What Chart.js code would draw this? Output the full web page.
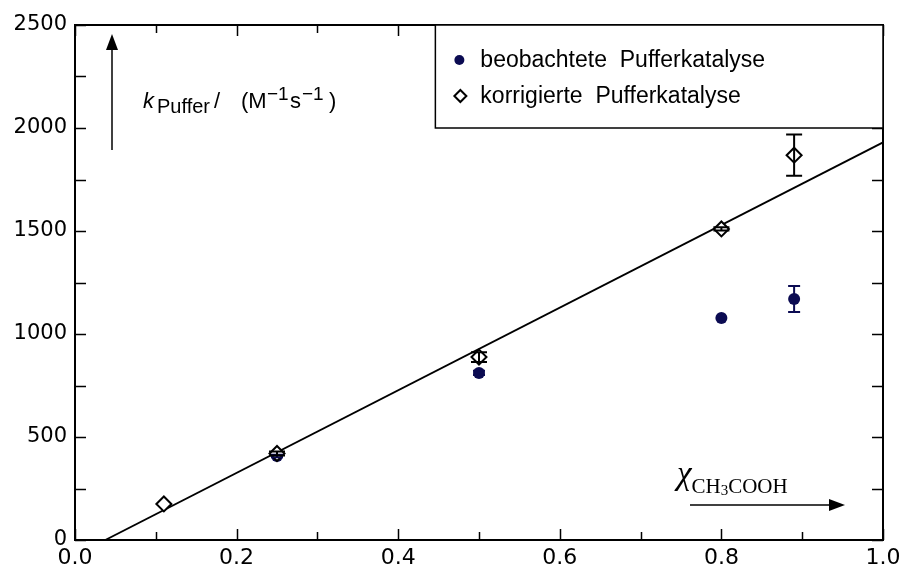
<!DOCTYPE html>
<html>
<head>
<meta charset="utf-8">
<script src="https://cdn.jsdelivr.net/npm/chart.js@4.4.0/dist/chart.umd.min.js"></script>
<style>
  html, body { margin: 0; padding: 0; background: #fff; }
  #wrap { width: 903px; height: 568px; }
</style>
</head>
<body>
<div id="wrap"><canvas id="c" width="903" height="568"></canvas></div>
<script>
// values
const obsX = [0.25, 0.50, 0.80, 0.89];
const obsY = [408, 811, 1078, 1170];
const obsErr = [6, 10, 0, 63];

const corrX = [0.11, 0.25, 0.50, 0.80, 0.89];
const corrY = [175, 420, 888, 1510, 1868];
const corrErr = [0, 10, 24, 8, 100];

// fitted line (end points)
const fitX = [0.0375, 1.0];
const fitY = [0, 1930];

const xTicksMajor = [0, 0.2, 0.4, 0.6, 0.8, 1.0];
const yTicks = [0, 500, 1000, 1500, 2000, 2500];

const labelObs = 'beobachtete  Pufferkatalyse';
const labelCorr = 'korrigierte  Pufferkatalyse';

const navy = '#0b0b52';
const SANS = '"Liberation Sans", Arial, sans-serif';
const SERIF = '"Liberation Serif", "Times New Roman", serif';

function pts(xs, ys) { return xs.map((x, i) => ({x: x, y: ys[i]})); }

// error bars, frame, inward ticks, legend box, axis arrows
const decorPlugin = {
  id: 'decor',
  afterDatasetsDraw(chart) {
    const ctx = chart.ctx;
    const xs = chart.scales.x, ys = chart.scales.y;
    const errs = [null, obsErr, corrErr];
    const cols = [null, navy, '#000'];
    const caps = [0, 6, 8];
    ctx.save();
    [1, 2].forEach(di => {
      const ds = chart.data.datasets[di];
      ctx.strokeStyle = cols[di];
      ctx.lineWidth = 2;
      ds.data.forEach((p, i) => {
        const e = errs[di][i];
        if (!e) return;
        const px = xs.getPixelForValue(p.x);
        const top = ys.getPixelForValue(p.y + e);
        const bot = ys.getPixelForValue(p.y - e);
        ctx.beginPath();
        ctx.moveTo(px, top); ctx.lineTo(px, bot);
        ctx.moveTo(px - caps[di], top); ctx.lineTo(px + caps[di], top);
        ctx.moveTo(px - caps[di], bot); ctx.lineTo(px + caps[di], bot);
        ctx.stroke();
      });
    });
    ctx.restore();
  },
  afterDraw(chart) {
    const ctx = chart.ctx;
    const a = chart.chartArea;
    const xs = chart.scales.x, ys = chart.scales.y;
    ctx.save();
    ctx.strokeStyle = '#000';
    ctx.lineWidth = 2;
    ctx.strokeRect(a.left, a.top, a.right - a.left, a.bottom - a.top);

    // inward ticks
    ctx.lineWidth = 1.5;
    ctx.beginPath();
    for (let k = 0; k <= 10; k++) {
      const v = k / 10;
      const px = Math.round(xs.getPixelForValue(v)) + 0.5;
      const len = (k % 2 === 0) ? 11 : 8;
      ctx.moveTo(px, a.bottom); ctx.lineTo(px, a.bottom - len);
      ctx.moveTo(px, a.top); ctx.lineTo(px, a.top + len);
    }
    for (let k = 0; k <= 10; k++) {
      const v = k * 250;
      const py = Math.round(ys.getPixelForValue(v)) + 0.5;
      ctx.moveTo(a.left, py); ctx.lineTo(a.left + 11, py);
      ctx.moveTo(a.right, py); ctx.lineTo(a.right - 11, py);
    }
    ctx.stroke();

    // legend box
    const lx = xs.getPixelForValue(0.446), ly = a.top;
    const lw = a.right - lx, lh = 103;
    ctx.fillStyle = '#fff';
    ctx.fillRect(lx, ly, lw, lh);
    ctx.lineWidth = 1.5;
    ctx.strokeRect(lx, ly, lw, lh);
    ctx.font = '23px ' + SANS;
    ctx.textBaseline = 'middle';
    ctx.fillStyle = navy;
    ctx.beginPath(); ctx.arc(lx + 24, ly + 35, 5, 0, Math.PI * 2); ctx.fill();
    ctx.fillStyle = '#000';
    ctx.fillText(labelObs, lx + 45, ly + 36);
    ctx.lineWidth = 2;
    ctx.beginPath();
    const dx = lx + 25, dy = ly + 71, r = 6;
    ctx.moveTo(dx, dy - r); ctx.lineTo(dx + r, dy); ctx.lineTo(dx, dy + r); ctx.lineTo(dx - r, dy); ctx.closePath();
    ctx.stroke();
    ctx.fillText(labelCorr, lx + 45, ly + 72);

    // y arrow
    ctx.lineWidth = 1.5;
    ctx.beginPath(); ctx.moveTo(112, 150); ctx.lineTo(112, 48); ctx.stroke();
    ctx.beginPath(); ctx.moveTo(112, 34); ctx.lineTo(106, 50); ctx.lineTo(118, 50); ctx.closePath(); ctx.fill();
    // x arrow
    ctx.beginPath(); ctx.moveTo(690, 505); ctx.lineTo(830, 505); ctx.stroke();
    ctx.beginPath(); ctx.moveTo(845, 505); ctx.lineTo(829, 499); ctx.lineTo(829, 511); ctx.closePath(); ctx.fill();

    // y axis title: k_Puffer / (M^-1 s^-1)
    ctx.textBaseline = 'alphabetic';
    function at(txt, font, x, y) { ctx.font = font; ctx.fillText(txt, x, y); }
    at('k', 'italic 22px ' + SANS, 143, 108);
    at('Puffer', '20px ' + SANS, 157, 113);
    at('/', '22px ' + SANS, 214, 108);
    at('(M', '22px ' + SANS, 241, 108);
    at('\u22121', '19px ' + SANS, 267, 100);
    at('s', '22px ' + SANS, 290, 108);
    at('\u22121', '19px ' + SANS, 302, 100);
    at(')', '22px ' + SANS, 329, 108);

    // x axis title: chi_CH3COOH
    let x = 677;
    function putx(txt, font, y) {
      ctx.font = font;
      ctx.fillText(txt, x, y);
      x += ctx.measureText(txt).width;
    }
    putx('\u03c7', 'italic 33px ' + SERIF, 484);
    putx('CH', '21px ' + SERIF, 493);
    putx('3', '15px ' + SERIF, 495);
    putx('COOH', '21px ' + SERIF, 493);
    ctx.restore();
  }
};

const chart = new Chart(document.getElementById('c'), {
  type: 'scatter',
  data: {
    datasets: [
      {
        type: 'line',
        label: 'fit',
        data: pts(fitX, fitY),
        borderColor: '#000',
        borderWidth: 1.8,
        pointRadius: 0,
        fill: false,
        order: 3
      },
      {
        label: labelObs,
        data: pts(obsX, obsY),
        pointStyle: 'circle',
        pointRadius: 6,
        backgroundColor: navy,
        borderColor: navy,
        borderWidth: 0,
        order: 2
      },
      {
        label: labelCorr,
        data: pts(corrX, corrY),
        pointStyle: 'rectRot',
        pointRadius: 7.5,
        backgroundColor: '#fff',
        borderColor: '#000',
        borderWidth: 2,
        order: 1
      }
    ]
  },
  options: {
    responsive: false,
    animation: false,
    layout: { padding: { top: 25, right: 0, left: 0, bottom: 0 } },
    plugins: { legend: { display: false }, tooltip: { enabled: false } },
    scales: {
      x: {
        type: 'linear',
        min: 0, max: 1,
        grid: { display: false, drawTicks: false },
        border: { display: false },
        afterBuildTicks: s => { s.ticks = xTicksMajor.map(v => ({value: v})); },
        afterFit: s => { s.height = 28; s.paddingRight = 20; },
        ticks: {
          padding: 5,
          color: '#000',
          font: { family: '"DejaVu Sans", sans-serif', size: 22 },
          callback: v => Number(v).toFixed(1),
          maxRotation: 0
        }
      },
      y: {
        type: 'linear',
        min: 0, max: 2500,
        grid: { display: false, drawTicks: false },
        border: { display: false },
        afterBuildTicks: s => { s.ticks = yTicks.map(v => ({value: v})); },
        afterFit: s => { s.width = 75; },
        ticks: {
          padding: 8,
          color: '#000',
          font: { family: '"DejaVu Sans", sans-serif', size: 21 },
          callback: v => String(v)
        }
      }
    }
  },
  plugins: [decorPlugin]
});
</script>
</body>
</html>
